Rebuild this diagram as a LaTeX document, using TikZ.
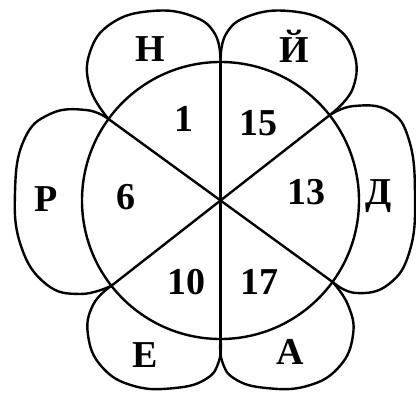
\documentclass[tikz,border=0pt]{standalone}
\usepackage{fontspec}
\setmainfont{Liberation Serif}
\begin{document}
\begin{tikzpicture}[x=1pt,y=-1pt,
  stroke/.style={draw=black,line width=2.4pt,line join=round,line cap=round},
  lbl/.style={anchor=base,inner sep=0pt,font=\fontsize{38}{40}\selectfont\bfseries}]
\useasboundingbox[fill=white] (0,0) rectangle (416,393);
\coordinate (C) at (220.5,200.5);
\coordinate (T) at (220.5,62);
\coordinate (B) at (220.5,339);
\coordinate (UL) at (108.5,119);
\coordinate (UR) at (329.6,115.2);
\coordinate (LL) at (111.4,285.8);
\coordinate (LR) at (332.5,281.9);
% circle and spokes
\draw[stroke] (C) circle[radius=138.5];
\draw[stroke] (T) -- (B);
\draw[stroke] (UL) -- (LR);
\draw[stroke] (UR) -- (LL);
% petals
\draw[stroke] plot[smooth,tension=0.75] coordinates {(220.5,62) (215,34) (192,16) (152,11) (112,23) (90,52) (90,88) (108.5,119)};
\draw[stroke] plot[smooth,tension=0.75] coordinates {(220.5,62) (226,34) (249,16) (289,11) (329,23) (353,50) (353,88) (329.6,115.2)};
\draw[stroke] plot[smooth,tension=0.75] coordinates {(108.5,119) (86,110) (50,114) (24,140) (15,192) (21,246) (46,284) (80,294) (111.4,285.8)};
\draw[stroke] plot[smooth,tension=0.75] coordinates {(329.6,115.2) (354,106) (389,111) (409,140) (415,195) (410,250) (389,284) (356,293) (332.5,281.9)};
\draw[stroke] plot[smooth,tension=0.75] coordinates {(111.4,285.8) (93,305) (88,335) (102,367) (134,386) (175,388) (206,379) (219,361) (220.5,339)};
\draw[stroke] plot[smooth,tension=0.75] coordinates {(332.5,281.9) (348,305) (353,335) (339,367) (307,386) (266,388) (235,379) (222,361) (220.5,339)};
% labels
\node[lbl] (n1) at (150,62) {Н};
\node[lbl] (n2) at (294,63) {Й};
\node[lbl] (n3) at (184,132) {1};
\node[lbl] (n4) at (258,136) {15};
\node[lbl] (n5) at (46,212) {Р};
\node[lbl] (n6) at (126,210) {6};
\node[lbl] (n7) at (306,205) {13};
\node[lbl] (n8) at (379,205) {Д};
\node[lbl] (n9) at (186,295) {10};
\node[lbl] (n10) at (259,295) {17};
\node[lbl] (n11) at (145,368) {Е};
\node[lbl] (n12) at (290,365) {А};
\end{tikzpicture}
\end{document}
